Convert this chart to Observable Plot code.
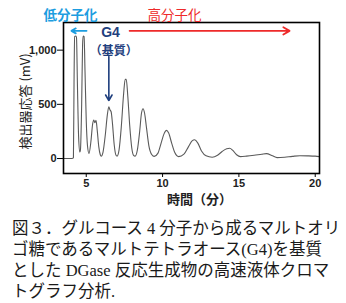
<!DOCTYPE html>
<html>
<head>
<meta charset="utf-8">
<script src="https://cdn.jsdelivr.net/npm/d3@7"></script>
<script src="https://cdn.jsdelivr.net/npm/@observablehq/plot@0.6"></script>
<style>
  body { margin: 0; background: #fff; }
  #chart { width: 346px; height: 212px; }
  #caption {
    font-family: "Liberation Serif", "Noto Sans CJK JP", serif;
    font-size: 16.5px; color: #1a1a1a;
    margin: 6px 0 0 12px; white-space: nowrap;
  }
  #caption div { height: 21px; line-height: 21px; overflow: visible; }
</style>
</head>
<body>
<div id="chart"></div>
<div id="caption"></div>
<script>
// Chromatogram: time (min) and detector response (mV)
const times = [3.5, 4.0, 4.12, 4.16, 4.2, 4.24, 4.3, 4.36, 4.42, 4.5, 4.58,
  4.62, 4.7, 4.76, 4.8, 4.86, 4.92, 5.0, 5.08, 5.18,
  5.3, 5.42, 5.5, 5.56, 5.64, 5.72, 5.82, 5.92, 5.98,
  6.1, 6.25, 6.38, 6.48, 6.55, 6.63, 6.72, 6.83, 6.95, 7.02,
  7.15, 7.3, 7.45, 7.55, 7.62, 7.72, 7.85, 7.98, 8.1, 8.2,
  8.35, 8.5, 8.62, 8.72, 8.82, 8.95, 9.1, 9.3, 9.45,
  9.7, 9.9, 10.1, 10.25, 10.4, 10.6, 10.8, 11.05,
  11.4, 11.7, 11.95, 12.1, 12.3, 12.55, 12.85, 13.25,
  13.6, 13.9, 14.2, 14.4, 14.6, 14.85, 15.1, 15.5, 16.0, 16.5, 16.8, 17.2, 17.5,
  18.0, 18.5, 19.0, 19.5, 20.0, 20.28];
const response = [0, 0, 2, 10, 700, 1125, 1130, 1120, 700, 200, 60,
  80, 500, 1050, 1130, 1125, 800, 350, 120, 46,
  150, 320, 355, 330, 352, 260, 110, 35, 22,
  60, 220, 400, 478, 450, 432, 320, 130, 30, 22,
  80, 300, 600, 730, 730, 580, 300, 100, 30, 22,
  80, 250, 420, 460, 420, 280, 120, 35, 20,
  50, 140, 230, 260, 235, 140, 55, 18,
  40, 110, 165, 173, 145, 70, 25, 12,
  30, 65, 90, 95, 75, 35, 18, 22, 30, 40, 45, 25, 8,
  12, 20, 26, 25, 22, 18];
const xTicks = [5, 10, 15, 20];
const yTicks = [0, 500, 1000];
const xLabel = "時間（分）";
const yLabel = "検出器応答 (mV)";
const lowLabel = "低分子化";
const highLabel = "高分子化";
const g4Label = "G4";
const substrateLabel = "（基質）";
const captionLines = [
  "図３．グルコース 4 分子から成るマルトオリ",
  "ゴ糖であるマルトテトラオース(G4)を基質",
  "とした DGase 反応生成物の高速液体クロマ",
  "トグラフ分析."
];

const data = times.map((t, i) => ({t, v: response[i]}));
const cjk = "'Noto Sans CJK JP', sans-serif";
const navy = "#1f3f7e";
const cyan = "#1c9de0";
const red = "#ee2a2a";

const chart = Plot.plot({
  width: 346,
  height: 212,
  marginLeft: 63,
  marginRight: 27,
  marginTop: 22,
  marginBottom: 39,
  style: {fontFamily: "'Liberation Sans', Arial, sans-serif", background: "white"},
  x: {domain: [3.51, 20.28]},
  y: {domain: [-138, 1255]},
  marks: [
    Plot.axisX(xTicks, {tickSize: 4, tickPadding: 2, fontSize: 11, fontWeight: "bold", label: null, stroke: "#000", color: "#222"}),
    Plot.axisY(yTicks, {tickSize: 6, tickPadding: 1, fontSize: 11, fontWeight: "bold", label: null, stroke: "#000", color: "#222"}),
    Plot.line(data, {x: "t", y: "v", curve: "monotone-x", stroke: "#5a5a5a", strokeWidth: 1.1}),
    Plot.frame({stroke: "#000", strokeWidth: 1.6}),
    Plot.text([yLabel], {frameAnchor: "left", textAnchor: "middle", rotate: -90, dx: -38, dy: 3.5, text: d => d, fontSize: 13, fontFamily: cjk, fill: "#222"}),
    Plot.text([xLabel], {frameAnchor: "bottom", dx: 8, dy: 30, text: d => d, fontSize: 13, fontFamily: cjk, fill: "#222", fontWeight: "bold"}),
    Plot.text([{t: 3.97, v: 1320, s: lowLabel}], {x: "t", y: "v", text: "s", fontSize: 13.5, fontWeight: "bold", fontFamily: cjk, fill: cyan}),
    Plot.text([{t: 10.78, v: 1320, s: highLabel}], {x: "t", y: "v", text: "s", fontSize: 13.5, fontFamily: cjk, fill: red}),
    Plot.arrow([{x1: 5.02, x2: 4.03, y: 1178}], {x1: "x1", x2: "x2", y1: "y", y2: "y", stroke: cyan, strokeWidth: 1.8, headLength: 6}),
    Plot.arrow([{x1: 7.84, x2: 18.32, y: 1178}], {x1: "x1", x2: "x2", y1: "y", y2: "y", stroke: red, strokeWidth: 1.8, headLength: 6}),
    Plot.text([{t: 6.59, v: 1160, s: g4Label}], {x: "t", y: "v", text: "s", fontSize: 14, fontWeight: "bold", fill: navy}),
    Plot.text([{t: 6.8, v: 988, s: substrateLabel}], {x: "t", y: "v", text: "s", fontSize: 12, fontWeight: "bold", fontFamily: cjk, fill: navy}),
    Plot.arrow([{t: 6.48, y1: 940, y2: 535}], {x1: "t", x2: "t", y1: "y1", y2: "y2", stroke: navy, strokeWidth: 1.6, headLength: 6})
  ]
});
document.getElementById("chart").append(chart);
const cap = document.getElementById("caption");
for (const line of captionLines) {
  const div = document.createElement("div");
  div.textContent = line;
  cap.append(div);
}
</script>
</body>
</html>
